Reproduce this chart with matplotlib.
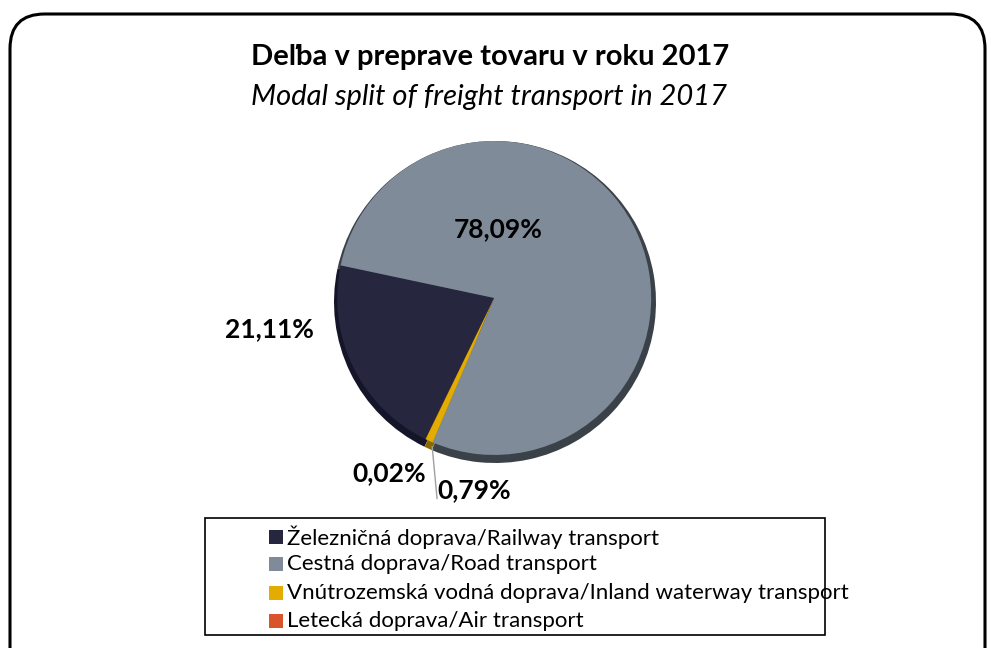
import matplotlib.pyplot as plt
from matplotlib.patches import FancyBboxPatch, Rectangle

plt.rcParams['font.family'] = ['Lato', 'DejaVu Sans']

# data
labels = ['Železničná doprava/Railway transport',
          'Cestná doprava/Road transport',
          'Vnútrozemská vodná doprava/Inland waterway transport',
          'Letecká doprava/Air transport']
shares = [21.11, 78.09, 0.79, 0.02]
colors = ['#26263e', '#7f8b99', '#e2ad00', '#d9532b']
shades = ['#15152a', '#3b4148', '#8a6a00', '#8a3010']
title = 'Deľba v preprave tovaru v roku 2017'
subtitle = 'Modal split of freight transport in 2017'

W, H = 991, 648
fig = plt.figure(figsize=(W / 100, H / 100), dpi=100)

def fx(px):
    return px / W

def fy(py):
    return 1 - py / H

# rounded outer frame
frame = FancyBboxPatch((fx(10), fy(700)), fx(975), 686 / H,
                       boxstyle='round,pad=0,rounding_size=0.035',
                       transform=fig.transFigure, fill=False,
                       edgecolor='black', linewidth=2.2, mutation_aspect=W / H)
fig.patches.append(frame)

fig.text(fx(490), fy(57), title, ha='center', va='center',
         fontsize=21, fontweight='bold')
fig.text(fx(489), fy(97), subtitle, ha='center', va='center',
         fontsize=21, style='italic')

# pie axes (slightly flattened, like the 3D tilt)
x0, x1, y0, y1 = 329, 661, 141, 463
ax = fig.add_axes([fx(x0), fy(y1), fx(x1 - x0), (y1 - y0) / H])
ax.axis('off')

start = 244
ax.pie(shares, colors=shades, startangle=start, counterclock=False,
       radius=1.0, center=(0, 0), wedgeprops=dict(linewidth=0))
ax.pie(shares, colors=colors, startangle=start, counterclock=False,
       radius=0.975, center=(-0.005, 0.025), wedgeprops=dict(linewidth=0))
ax.set_xlim(-1, 1)
ax.set_ylim(-1, 1)

pct = [f'{v:.2f}'.replace('.', ',') + '%' for v in shares]
label_pos = [(-1.40, -0.17), (0.02, 0.45), (-0.13, -1.17), (-0.66, -1.06)]
for txt, (lx, ly) in zip(pct, label_pos):
    ax.text(lx, ly, txt, ha='center', va='center', fontsize=19,
            fontweight='bold', clip_on=False)
ax.plot([-0.39, -0.36], [-0.90, -1.22], color='#a0a0a0', linewidth=1,
        clip_on=False)

# legend box
fig.patches.append(Rectangle((fx(205), fy(635)), fx(620), 117 / H,
                             transform=fig.transFigure, fill=False,
                             edgecolor='black', linewidth=1.2))
rows = [537, 564, 593, 621]
for lab, col, ry in zip(labels, colors, rows):
    fig.patches.append(Rectangle((fx(269), fy(ry + 7)), fx(14), 14 / H,
                                 transform=fig.transFigure,
                                 facecolor=col, edgecolor='none'))
    fig.text(fx(287), fy(ry), lab, ha='left', va='center', fontsize=16)

fig.savefig('out.png', dpi=100)
